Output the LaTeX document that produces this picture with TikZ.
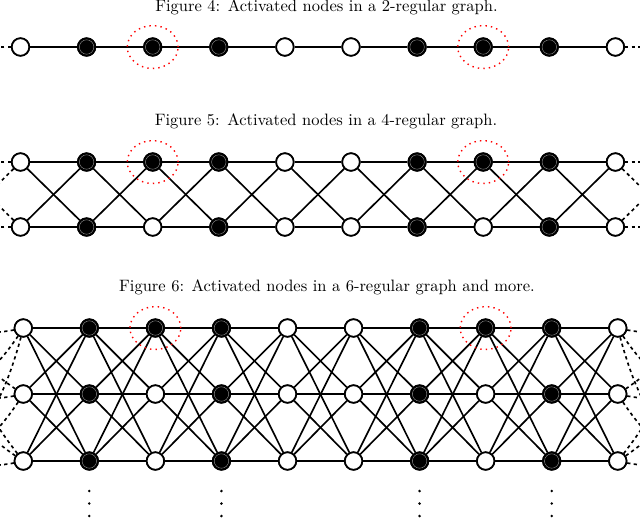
\documentclass[tikz,border=0pt]{standalone}
\usetikzlibrary{calc}
\begin{document}
\begin{tikzpicture}[x=0.606pt,y=-0.606pt,
  edge/.style={line width=1pt},
  stub/.style={line width=1pt,dash pattern=on 2pt off 2pt},
  wn/.style={circle,draw=black,fill=white,line width=1.05pt,minimum size=10.6pt,inner sep=0pt},
  bn/.style={circle,draw=black,fill=black,line width=1.05pt,minimum size=10.6pt,inner sep=0pt,
    path picture={\draw[black!45,line width=0.3pt] (path picture bounding box.center) circle (4.4pt);}},
  redring/.style={draw=red,line width=0.85pt,dash pattern=on 0.85pt off 2.5pt},
  vdot/.style={circle,fill=black,inner sep=0pt,minimum size=1.7pt},
  captxt/.style={anchor=base,inner sep=0pt}]
\useasboundingbox (0,0) rectangle (640,518);
\clip (0,0) rectangle (640,518);

% captions
\node[captxt] (c4) at (326.5,11.5) {Figure 4:\hspace{4.6pt}Activated nodes in a 2-regular graph.};
\node[captxt] (c5) at (326,125) {Figure 5:\hspace{4.6pt}Activated nodes in a 4-regular graph.};
\node[captxt] (c6) at (327,291.5) {Figure 6:\hspace{4.6pt}Activated nodes in a 6-regular graph and more.};

% ---------- Figure 4 ----------
\foreach \i/\s in {0/wn,1/bn,2/bn,3/bn,4/wn,5/wn,6/bn,7/bn,8/bn,9/wn}
  \node[\s] (a\i) at (20.5+66.1*\i,47) {};
\coordinate (aL) at (20.5-66.1,47);
\coordinate (aR) at (20.5+66.1*10,47);
\foreach \i [evaluate=\i as \j using int(\i+1)] in {0,...,8}
  \draw[edge] (a\i) -- (a\j);
\draw[stub] (a0) -- (aL);
\draw[stub] (a9) -- (aR);

% ---------- Figure 5 ----------
\foreach \i/\s in {0/wn,1/bn,2/bn,3/bn,4/wn,5/wn,6/bn,7/bn,8/bn,9/wn}
  \node[\s] (bt\i) at (20.5+66.1*\i,162) {};
\foreach \i/\s in {0/wn,1/bn,2/wn,3/bn,4/wn,5/wn,6/bn,7/wn,8/bn,9/wn}
  \node[\s] (bb\i) at (20.5+66.1*\i,227) {};
\coordinate (btL) at (20.5-66.1,162);
\coordinate (bbL) at (20.5-66.1,227);
\coordinate (btR) at (20.5+66.1*10,162);
\coordinate (bbR) at (20.5+66.1*10,227);
\foreach \i [evaluate=\i as \j using int(\i+1)] in {0,...,8}{
  \draw[edge] (bt\i) -- (bt\j);
  \draw[edge] (bb\i) -- (bb\j);
  \draw[edge] (bt\i) -- (bb\j);
  \draw[edge] (bb\i) -- (bt\j);
}
\foreach \u in {bt,bb}{
  \foreach \v in {bt,bb}{
    \draw[stub] (\u0) -- (\v L);
    \draw[stub] (\u9) -- (\v R);
  }
}

% ---------- Figure 6 ----------
\foreach \i/\s in {0/wn,1/bn,2/bn,3/bn,4/wn,5/wn,6/bn,7/bn,8/bn,9/wn}
  \node[\s] (ca\i) at (23.3+66.05*\i,328) {};
\foreach \i/\s in {0/wn,1/bn,2/wn,3/bn,4/wn,5/wn,6/bn,7/wn,8/bn,9/wn}
  \node[\s] (cb\i) at (23.3+66.05*\i,394) {};
\foreach \i/\s in {0/wn,1/bn,2/wn,3/bn,4/wn,5/wn,6/bn,7/wn,8/bn,9/wn}
  \node[\s] (cc\i) at (23.3+66.05*\i,461) {};
\foreach \r/\y in {ca/328,cb/394,cc/461}{
  \coordinate (\r L) at (23.3-66.05,\y);
  \coordinate (\r R) at (23.3+66.05*10,\y);
}
\foreach \i [evaluate=\i as \j using int(\i+1)] in {0,...,8}{
  \foreach \u in {ca,cb,cc}{
    \foreach \v in {ca,cb,cc}{
      \draw[edge] (\u\i) -- (\v\j);
    }
  }
}
\foreach \u in {ca,cb,cc}{
  \foreach \v in {ca,cb,cc}{
    \draw[stub] (\u0) to[bend left=12] (\v L);
    \draw[stub] (\u9) to[bend right=12] (\v R);
  }
}

% redraw nodes on top
\foreach \i/\s in {0/wn,1/bn,2/bn,3/bn,4/wn,5/wn,6/bn,7/bn,8/bn,9/wn}{
  \node[\s] at (a\i) {};
  \node[\s] at (bt\i) {};
  \node[\s] at (ca\i) {};
}
\foreach \i/\s in {0/wn,1/bn,2/wn,3/bn,4/wn,5/wn,6/bn,7/wn,8/bn,9/wn}{
  \node[\s] at (bb\i) {};
  \node[\s] at (cb\i) {};
  \node[\s] at (cc\i) {};
}

% red rings
\foreach \n in {a2,a7,bt2,bt7,ca2,ca7}
  \draw[redring] (\n) ellipse [x radius=15.4pt, y radius=13pt];

% vertical dots
\foreach \k/\x in {1/89.3,2/221.4,3/419.6,4/551.7}{
  \node[vdot] (d\k a) at (\x,491) {};
  \node[vdot] (d\k b) at (\x,503.5) {};
  \node[vdot] (d\k c) at (\x,516) {};
}
\end{tikzpicture}
\end{document}
